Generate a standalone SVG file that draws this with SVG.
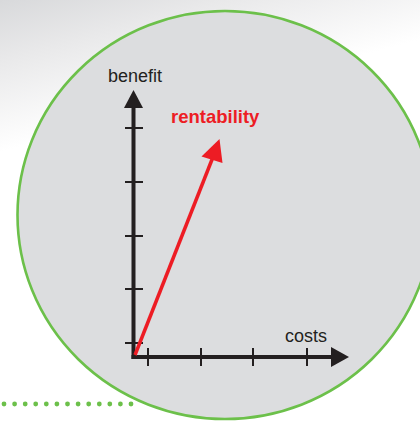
<svg xmlns="http://www.w3.org/2000/svg" width="420" height="421" viewBox="0 0 420 421">
<defs>
<linearGradient id="bg" x1="0" y1="0" x2="0.12" y2="0.45">
<stop offset="0" stop-color="#d8d9db"/>
<stop offset="0.3" stop-color="#e9e9ea"/>
<stop offset="0.75" stop-color="#ffffff"/>
</linearGradient>
<style>
.axis{stroke:#231f20;stroke-width:4;fill:none}
.tick{stroke:#231f20;stroke-width:2;fill:none}
.lbl{font-family:"Liberation Sans",Arial,sans-serif;font-size:18px;fill:#231f20}
.red{font-family:"Liberation Sans",Arial,sans-serif;font-size:18.5px;font-weight:bold;fill:#ed1c24}
.dot{fill:#6cc04a}
</style>
</defs>
<rect width="420" height="421" fill="url(#bg)"/>
<g id="dots">
<circle class="dot" cx="4" cy="404" r="2.4"/>
<circle class="dot" cx="14.6" cy="404" r="2.4"/>
<circle class="dot" cx="25.2" cy="404" r="2.4"/>
<circle class="dot" cx="35.7" cy="404" r="2.4"/>
<circle class="dot" cx="46.3" cy="404" r="2.4"/>
<circle class="dot" cx="56.9" cy="404" r="2.4"/>
<circle class="dot" cx="67.5" cy="404" r="2.4"/>
<circle class="dot" cx="78.1" cy="404" r="2.4"/>
<circle class="dot" cx="88.7" cy="404" r="2.4"/>
<circle class="dot" cx="99.3" cy="404" r="2.4"/>
<circle class="dot" cx="109.8" cy="404" r="2.4"/>
<circle class="dot" cx="120.4" cy="404" r="2.4"/>
<circle class="dot" cx="131" cy="404" r="2.4"/>
</g>
<g id="circle">
<ellipse cx="225" cy="215" rx="207.5" ry="204" fill="#dcdddf" stroke="#6cc04a" stroke-width="2.6"/>
</g>
<g id="connectors">
<line class="axis" x1="133.5" y1="359" x2="133.5" y2="106"/>
<polygon points="133.5,90 124,108 143,108" fill="#231f20"/>
<line class="axis" x1="131.5" y1="357" x2="333" y2="357"/>
<polygon points="349,357 331,347 331,367" fill="#231f20"/>
<line class="tick" x1="125" y1="128" x2="143" y2="128"/>
<line class="tick" x1="125" y1="182" x2="143" y2="182"/>
<line class="tick" x1="125" y1="236" x2="143" y2="236"/>
<line class="tick" x1="125" y1="289" x2="143" y2="289"/>
<line class="tick" x1="125" y1="343" x2="143" y2="343"/>
<line class="tick" x1="148" y1="348" x2="148" y2="366"/>
<line class="tick" x1="201" y1="348" x2="201" y2="366"/>
<line class="tick" x1="253" y1="348" x2="253" y2="366"/>
<line class="tick" x1="307" y1="348" x2="307" y2="366"/>
<line x1="135" y1="355" x2="213" y2="157" stroke="#ed1c24" stroke-width="3.5"/>
<polygon points="219.5,139 201.5,156.5 222.5,163" fill="#ed1c24"/>
</g>
<g id="labels">
<text class="lbl" x="108" y="82">benefit</text>
<text class="red" x="171" y="123">rentability</text>
<text class="lbl" x="285" y="342">costs</text>
</g>
</svg>
